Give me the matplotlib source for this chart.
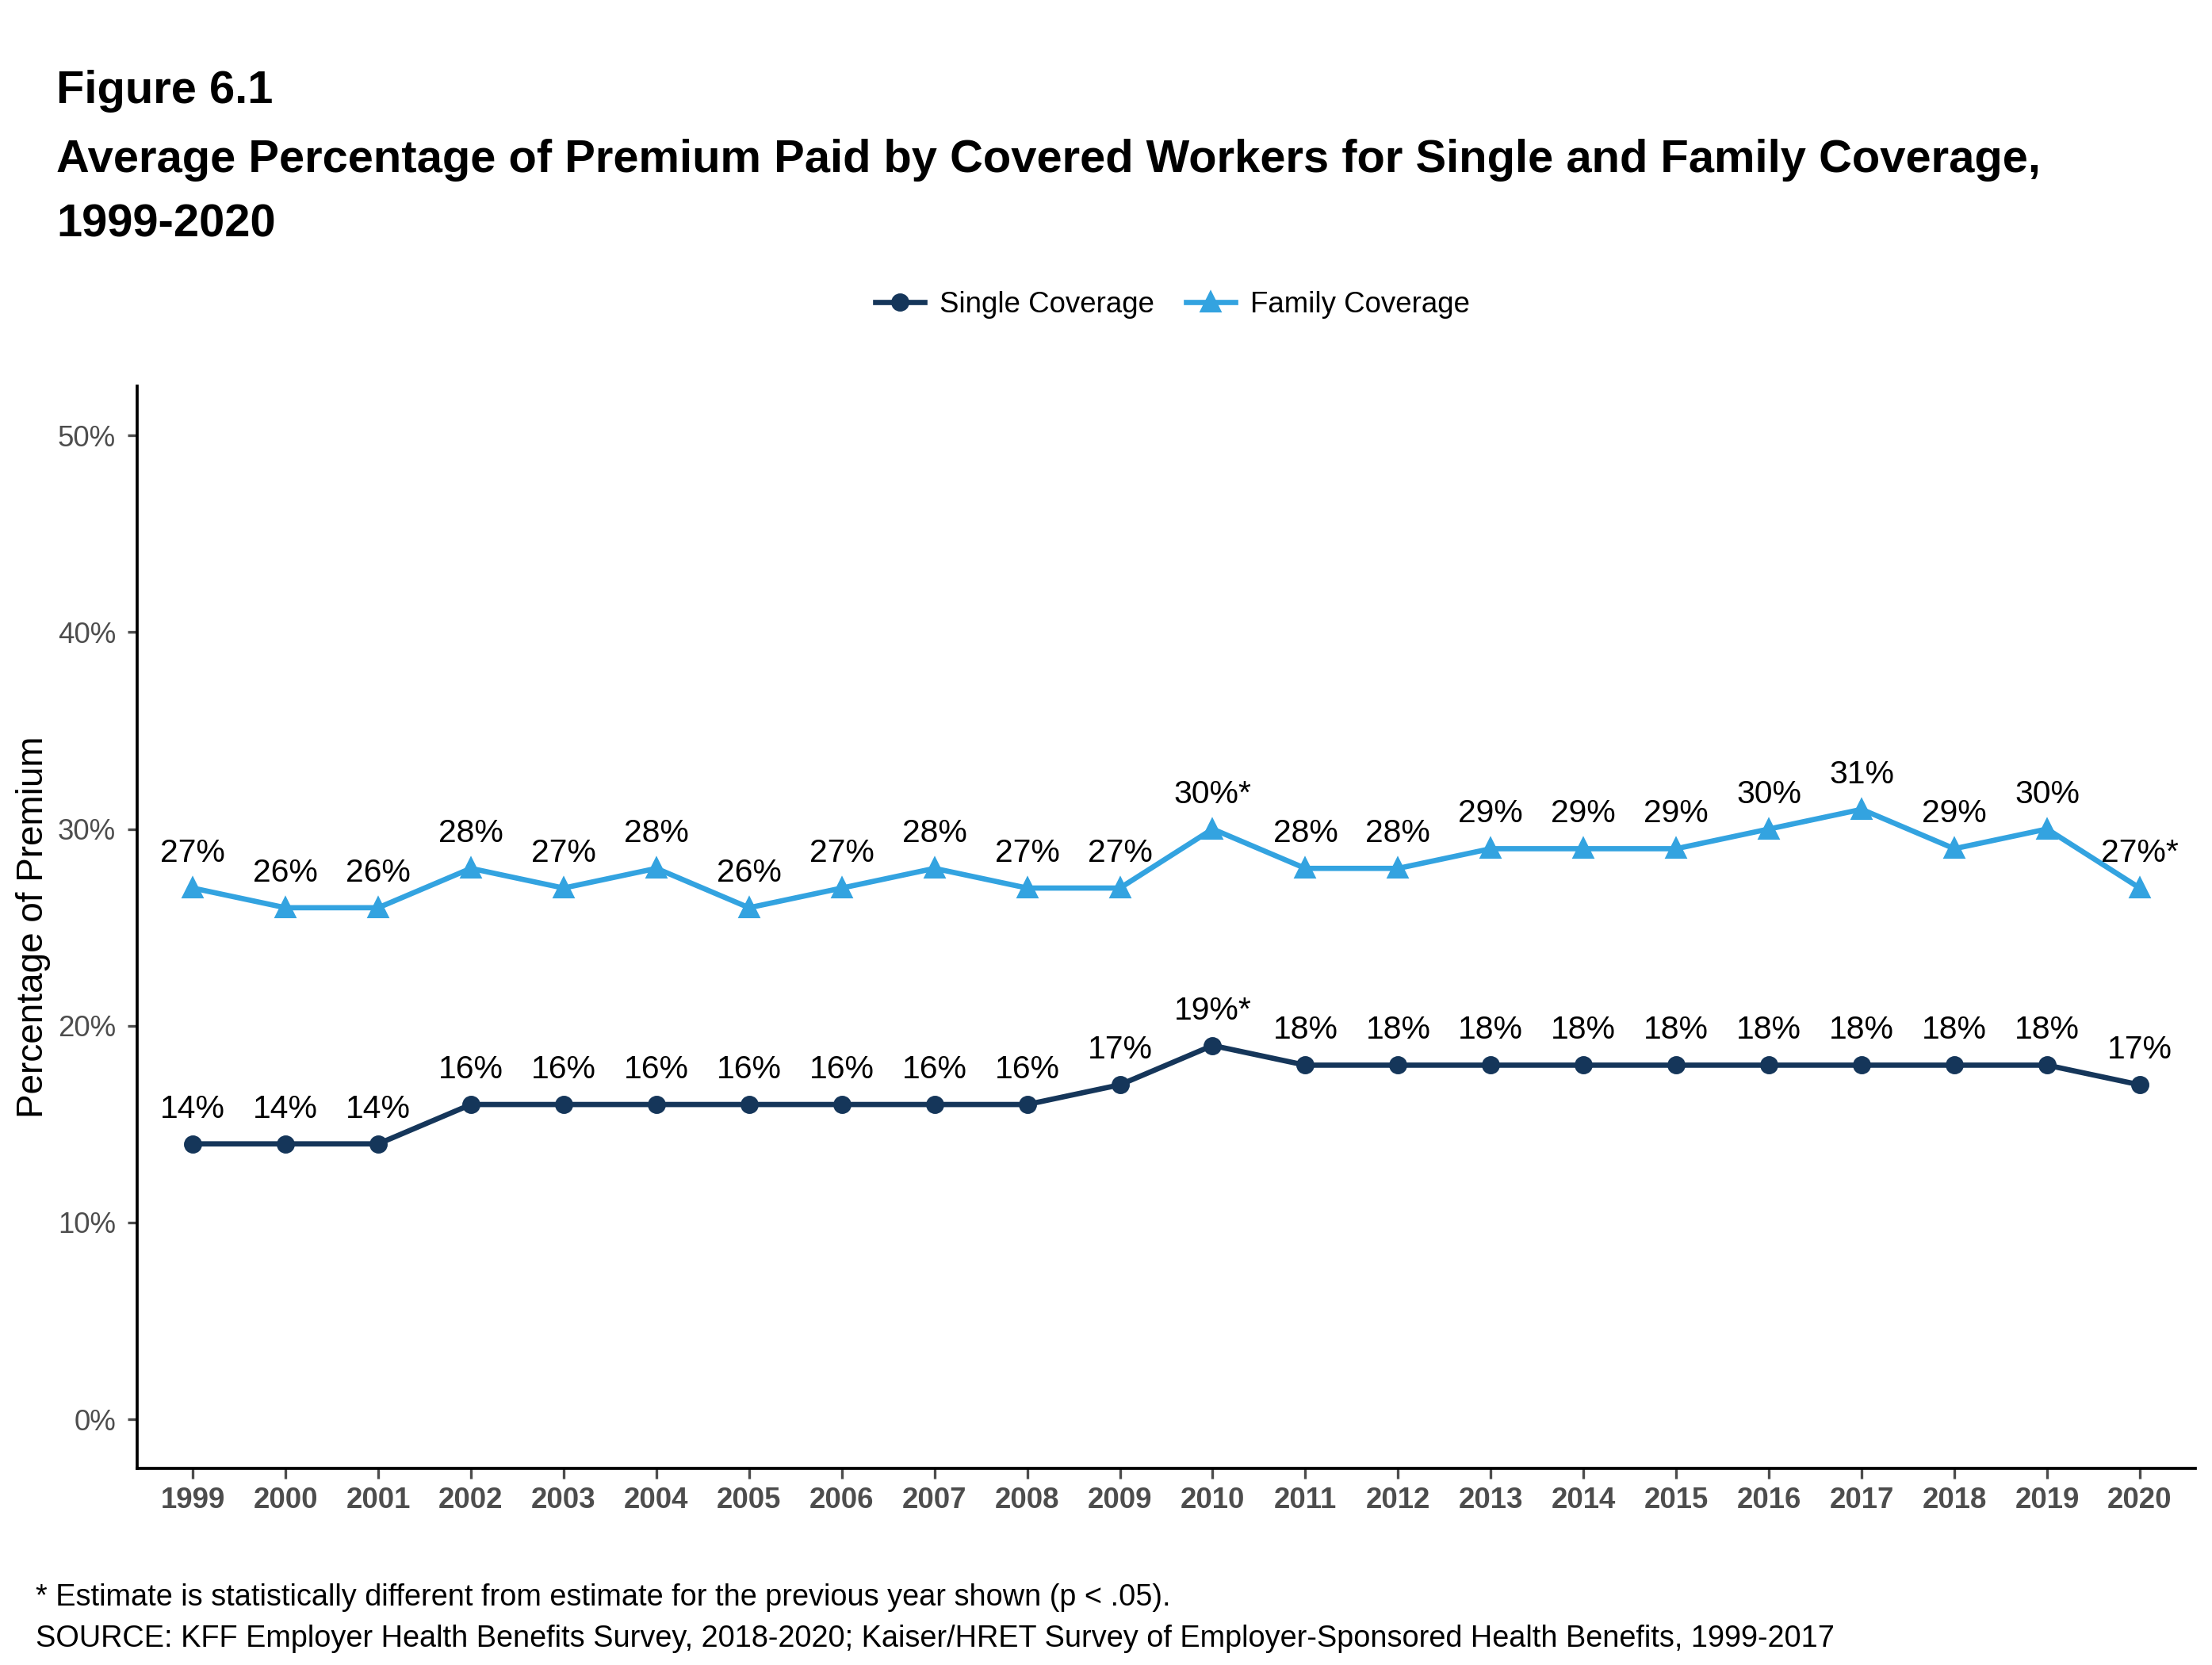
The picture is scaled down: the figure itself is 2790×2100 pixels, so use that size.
import matplotlib
matplotlib.use("Agg")
import matplotlib.pyplot as plt
from matplotlib.ticker import FuncFormatter

plt.rcParams['font.family'] = ['Liberation Sans', 'DejaVu Sans']

years = list(range(1999, 2021))
single = [14, 14, 14, 16, 16, 16, 16, 16, 16, 16, 17, 19, 18, 18, 18, 18, 18, 18, 18, 18, 18, 17]
family = [27, 26, 26, 28, 27, 28, 26, 27, 28, 27, 27, 30, 28, 28, 29, 29, 29, 30, 31, 29, 30, 27]
single_sig = [2010]
family_sig = [2010, 2020]

navy = '#15365a'
blue = '#33a3e0'

fig = plt.figure(figsize=(9.3, 7), dpi=300)
ax = fig.add_axes([0.062, 0.118, 0.9305, 0.65])

ax.plot(years, single, color=navy, lw=1.6, marker='o', ms=4.5, label='Single Coverage')
ax.plot(years, family, color=blue, lw=1.6, marker='^', ms=5.2, label='Family Coverage')

# data labels
for yr, v in zip(years, single):
    txt = f'{v}%' + ('*' if yr in single_sig else '')
    ax.annotate(txt, (yr, v), xytext=(0, 6), textcoords='offset points',
                ha='center', va='bottom', fontsize=9.8, color='black')
for yr, v in zip(years, family):
    txt = f'{v}%' + ('*' if yr in family_sig else '')
    ax.annotate(txt, (yr, v), xytext=(0, 6), textcoords='offset points',
                ha='center', va='bottom', fontsize=9.8, color='black')

ax.set_xlim(1998.4, 2020.6)
ax.set_ylim(-2.5, 52.5)
ax.set_yticks([0, 10, 20, 30, 40, 50])
ax.yaxis.set_major_formatter(FuncFormatter(lambda v, p: f'{int(v)}%'))
ax.set_xticks(years)
ax.set_xticklabels([str(y) for y in years], fontweight='bold')
ax.tick_params(axis='both', colors='#4d4d4d', labelsize=8.8, length=3, width=0.8)
ax.tick_params(axis='x', pad=2.5)
ax.set_ylabel('Percentage of Premium', fontsize=11, color='black', labelpad=2)

for s in ['top', 'right']:
    ax.spines[s].set_visible(False)
for s in ['left', 'bottom']:
    ax.spines[s].set_linewidth(0.9)
    ax.spines[s].set_color('black')

fig.text(0.0255, 0.945, 'Figure 6.1', fontsize=13.9, fontweight='bold', va='center', ha='left')
fig.text(0.0255, 0.904, 'Average Percentage of Premium Paid by Covered Workers for Single and Family Coverage,',
         fontsize=13.9, fontweight='bold', va='center', ha='left')
fig.text(0.0255, 0.865, '1999-2020', fontsize=13.9, fontweight='bold', va='center', ha='left')

fig.legend(loc='center', bbox_to_anchor=(0.53, 0.817), ncol=2, frameon=False,
           fontsize=8.8, handlelength=1.7, columnspacing=1.1, handletextpad=0.5)

fig.text(0.016, 0.0405, '* Estimate is statistically different from estimate for the previous year shown (p < .05).',
         fontsize=9.1, va='center', ha='left')
fig.text(0.016, 0.0155, 'SOURCE: KFF Employer Health Benefits Survey, 2018-2020; Kaiser/HRET Survey of Employer-Sponsored Health Benefits, 1999-2017',
         fontsize=9.1, va='center', ha='left')

fig.savefig('out.png', dpi=300)
